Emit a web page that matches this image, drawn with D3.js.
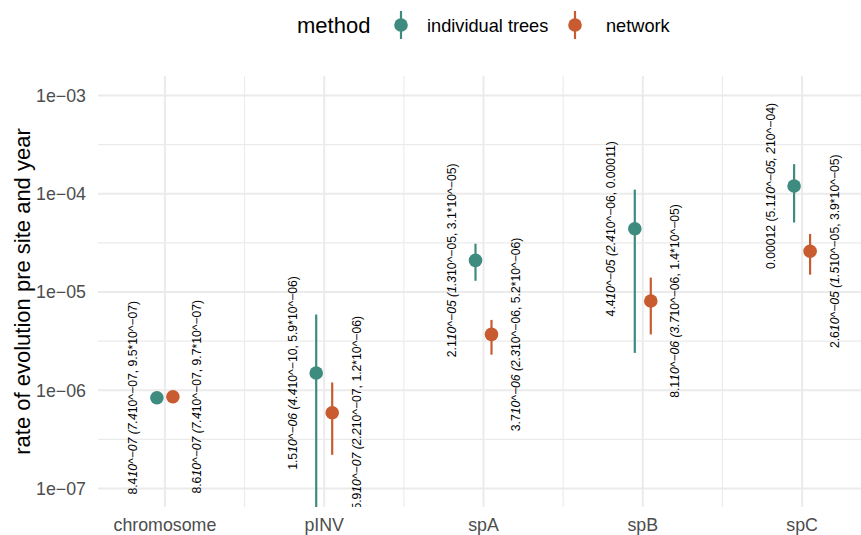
<!DOCTYPE html>
<html>
<head>
<meta charset="utf-8">
<script src="https://cdn.jsdelivr.net/npm/d3@7"></script>
<style>
  body { margin: 0; background: #fff; }
  text { font-family: "Liberation Sans", Arial, Helvetica, sans-serif; }
</style>
</head>
<body>
<div id="chart"></div>
<script>
const categories = ['chromosome', 'pINV', 'spA', 'spB', 'spC']
const methods = ['individual trees', 'network']
const colors = ['#3E8B7F', '#C85B30']

// estimate, lower, upper per category for each method
const treeEst = [8.4e-7, 1.5e-6, 2.1e-5, 4.4e-5, 1.2e-4]
const treeLow = [7.4e-7, 4.4e-10, 1.3e-5, 2.4e-6, 5.1e-5]
const treeHigh = [9.5e-7, 5.9e-6, 3.1e-5, 1.1e-4, 2e-4]
const netEst = [8.6e-7, 5.9e-7, 3.7e-6, 8.1e-6, 2.6e-5]
const netLow = [7.4e-7, 2.2e-7, 2.3e-6, 3.7e-6, 1.5e-5]
const netHigh = [9.7e-7, 1.2e-6, 5.2e-6, 1.4e-5, 3.9e-5]

const treeLabels = [
  '8.4*10^-07 (7.4*10^-07, 9.5*10^-07)',
  '1.5*10^-06 (4.4*10^-10, 5.9*10^-06)',
  '2.1*10^-05 (1.3*10^-05, 3.1*10^-05)',
  '4.4*10^-05 (2.4*10^-06, 0.00011)',
  '0.00012 (5.1*10^-05, 2*10^-04)'
]
const netLabels = [
  '8.6*10^-07 (7.4*10^-07, 9.7*10^-07)',
  '5.9*10^-07 (2.2*10^-07, 1.2*10^-06)',
  '3.7*10^-06 (2.3*10^-06, 5.2*10^-06)',
  '8.1*10^-06 (3.7*10^-06, 1.4*10^-05)',
  '2.6*10^-05 (1.5*10^-05, 3.9*10^-05)'
]

const yTicks = [1e-3, 1e-4, 1e-5, 1e-6, 1e-7]
const yTickLabels = ['1e\u221203', '1e\u221204', '1e\u221205', '1e\u221206', '1e\u221207']
const yMinor = [10 ** -3.5, 10 ** -4.5, 10 ** -5.5, 10 ** -6.5]

const rows = []
categories.forEach((c, i) => {
  rows.push({ cat: c, m: 0, est: treeEst[i], lo: treeLow[i], hi: treeHigh[i], label: treeLabels[i] })
  rows.push({ cat: c, m: 1, est: netEst[i], lo: netLow[i], hi: netHigh[i], label: netLabels[i] })
})

const width = 861
const height = 535
const panel = { left: 98, right: 869, top: 76, bottom: 507 }

const svg = d3.select('#chart').append('svg')
  .attr('width', width)
  .attr('height', height)

const x = d3.scalePoint().domain(categories).range([panel.left, panel.right]).padding(0.42)
const y = d3.scaleLog().domain([1e-7, 1e-3]).range([488.5, 95.5])
const dodge = 8
const labelOff = 32

svg.append('clipPath').attr('id', 'clip')
  .append('rect')
  .attr('x', panel.left).attr('y', panel.top)
  .attr('width', panel.right - panel.left).attr('height', panel.bottom - panel.top)

const grid = svg.append('g')
// minor grid
grid.selectAll('.yminor').data(yMinor).enter().append('line')
  .attr('x1', panel.left).attr('x2', panel.right)
  .attr('y1', d => y(d)).attr('y2', d => y(d))
  .attr('stroke', '#EBEBEB').attr('stroke-width', 1.1)
const step = x.step()
grid.selectAll('.xminor').data(categories.slice(0, -1)).enter().append('line')
  .attr('x1', d => x(d) + step / 2).attr('x2', d => x(d) + step / 2)
  .attr('y1', panel.top).attr('y2', panel.bottom)
  .attr('stroke', '#EBEBEB').attr('stroke-width', 1.1)
// major grid
grid.selectAll('.ymajor').data(yTicks).enter().append('line')
  .attr('x1', panel.left).attr('x2', panel.right)
  .attr('y1', d => y(d)).attr('y2', d => y(d))
  .attr('stroke', '#EBEBEB').attr('stroke-width', 2)
grid.selectAll('.xmajor').data(categories).enter().append('line')
  .attr('x1', d => x(d)).attr('x2', d => x(d))
  .attr('y1', panel.top).attr('y2', panel.bottom)
  .attr('stroke', '#EBEBEB').attr('stroke-width', 2)

// y axis labels
svg.append('g').selectAll('text').data(yTicks).enter().append('text')
  .attr('x', panel.left - 12)
  .attr('y', d => y(d))
  .attr('dy', '0.36em')
  .attr('text-anchor', 'end')
  .attr('font-size', 17.8)
  .attr('fill', '#4D4D4D')
  .text((d, i) => yTickLabels[i])

// x axis labels
svg.append('g').selectAll('text').data(categories).enter().append('text')
  .attr('x', d => x(d))
  .attr('y', 531)
  .attr('text-anchor', 'middle')
  .attr('font-size', 17.8)
  .attr('fill', '#4D4D4D')
  .text(d => d)

// y title
svg.append('text')
  .attr('transform', `translate(30, ${(panel.top + panel.bottom) / 2}) rotate(-90)`)
  .attr('text-anchor', 'middle')
  .attr('font-size', 22)
  .attr('fill', '#000')
  .text('rate of evolution pre site and year')

const plot = svg.append('g').attr('clip-path', 'url(#clip)')
const px = d => x(d.cat) + (d.m === 0 ? -dodge : dodge)

// the first pair of asterisks was read as markdown italics in the original
function addLabel (sel, str) {
  const s = str.replace(/-/g, '\u2212')
  const i1 = s.indexOf('*')
  const i2 = s.indexOf('*', i1 + 1)
  const parts = [
    { t: s.slice(0, i1), it: false },
    { t: s.slice(i1 + 1, i2), it: true },
    { t: s.slice(i2 + 1), it: false }
  ]
  parts.forEach(o => {
    sel.append('tspan').attr('font-style', o.it ? 'italic' : 'normal').text(o.t)
  })
}

plot.selectAll('.lab').data(rows).enter().append('text')
  .attr('transform', d => `translate(${x(d.cat) + (d.m === 0 ? -labelOff : labelOff)}, ${y(d.est)}) rotate(-90)`)
  .attr('text-anchor', 'middle')
  .attr('dy', '0.36em')
  .attr('font-size', 12.2)
  .attr('fill', '#000')
  .each(function (d) { addLabel(d3.select(this), d.label) })

plot.selectAll('.range').data(rows).enter().append('line')
  .attr('x1', px).attr('x2', px)
  .attr('y1', d => y(d.lo)).attr('y2', d => y(d.hi))
  .attr('stroke', d => colors[d.m])
  .attr('stroke-width', 2.2)

plot.selectAll('.pt').data(rows).enter().append('circle')
  .attr('cx', px).attr('cy', d => y(d.est))
  .attr('r', 6.8)
  .attr('fill', d => colors[d.m])

// legend
const legend = svg.append('g')
legend.append('text')
  .attr('x', 297).attr('y', 33)
  .attr('font-size', 22)
  .text('method')
const keyX = [401, 575]
const textX = [427, 606]
methods.forEach((m, i) => {
  legend.append('line')
    .attr('x1', keyX[i]).attr('x2', keyX[i])
    .attr('y1', 11).attr('y2', 39)
    .attr('stroke', colors[i]).attr('stroke-width', 2.2)
  legend.append('circle')
    .attr('cx', keyX[i]).attr('cy', 25).attr('r', 6.8)
    .attr('fill', colors[i])
  legend.append('text')
    .attr('x', textX[i]).attr('y', 31.5)
    .attr('font-size', 18.2)
    .text(m)
})
</script>
</body>
</html>
